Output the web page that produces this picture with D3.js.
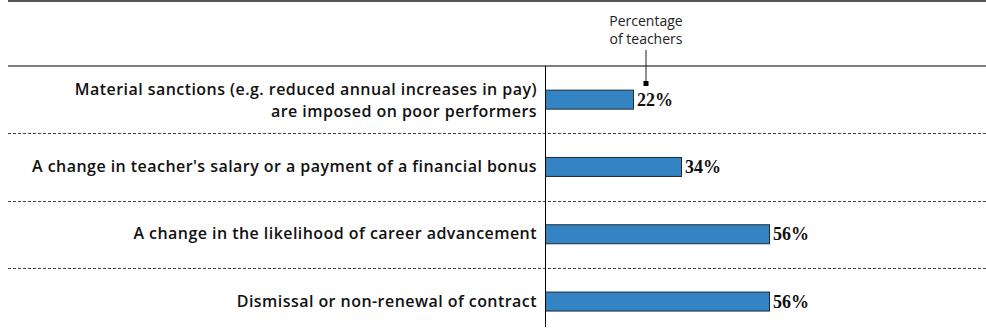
<!DOCTYPE html>
<html>
<head>
<meta charset="utf-8">
<script src="https://cdn.jsdelivr.net/npm/d3@7"></script>
<style>
  html, body { margin: 0; padding: 0; background: #fff; }
  svg { display: block; }
</style>
</head>
<body>
<svg id="chart" width="986" height="329"></svg>
<script>
// Incentives linked to teacher appraisal
const categories = [
  ["Material sanctions (e.g. reduced annual increases in pay)", "are imposed on poor performers"],
  ["A change in teacher's salary or a payment of a financial bonus"],
  ["A change in the likelihood of career advancement"],
  ["Dismissal or non-renewal of contract"]
];
const values = [22, 34, 56, 56];
const headerLines = ["Percentage", "of teachers"];

const svg = d3.select("#chart");
const W = 986;

const axisX = 545.5;
const plotTop = 66;
const x = d3.scaleLinear().domain([0, 100]).range([axisX, axisX + 400]);
const y = d3.scaleBand().domain(d3.range(categories.length)).range([plotTop, plotTop + 4 * 67.3]).paddingInner(0).paddingOuter(0);

// frame lines
svg.append("line").attr("x1", 8).attr("x2", W).attr("y1", 1).attr("y2", 1)
  .attr("stroke", "#555").attr("stroke-width", 2.2);
svg.append("line").attr("x1", 8).attr("x2", W).attr("y1", plotTop).attr("y2", plotTop)
  .attr("stroke", "#000").attr("stroke-width", 1.2);

// dotted row separators
svg.selectAll("line.sep").data(d3.range(1, categories.length)).join("line")
  .attr("class", "sep")
  .attr("x1", 8).attr("x2", W)
  .attr("y1", d => Math.round(y(d)) + 0.5).attr("y2", d => Math.round(y(d)) + 0.5)
  .attr("stroke", "#444").attr("stroke-width", 1).attr("stroke-dasharray", "3,2");

// bars
const barH = 19;
svg.selectAll("rect.bar").data(values).join("rect")
  .attr("class", "bar")
  .attr("x", x(0))
  .attr("y", (d, i) => y(i) + y.bandwidth() / 2 - barH / 2)
  .attr("width", d => x(d) - x(0))
  .attr("height", barH)
  .attr("fill", "#3484c4")
  .attr("stroke", "#1c2b38")
  .attr("stroke-width", 1);

// value labels
svg.selectAll("text.val").data(values).join("text")
  .attr("class", "val")
  .attr("x", d => x(d) + 3.5)
  .attr("y", (d, i) => y(i) + y.bandwidth() / 2 + 6)
  .attr("font-family", "'Liberation Serif', 'Times New Roman', serif")
  .attr("font-weight", "bold")
  .attr("font-size", 18)
  .attr("fill", "#111")
  .text(d => d + "%");

// category labels (two-line labels are stacked as separate text rows)
const catRows = [];
categories.forEach((lines, i) => {
  const cy = y(i) + y.bandwidth() / 2;
  const lh = 22;
  const y0 = lines.length > 1 ? cy - 5 : cy + 5;
  lines.forEach((t, k) => catRows.push({ t, y: y0 + k * lh }));
});
svg.selectAll("text.cat").data(catRows).join("text")
  .attr("class", "cat")
  .attr("x", 537)
  .attr("y", d => d.y)
  .attr("text-anchor", "end")
  .attr("font-family", "'Open Sans', sans-serif")
  .attr("font-weight", 600)
  .attr("font-size", 16)
  .attr("letter-spacing", 0.45)
  .attr("fill", "#111")
  .text(d => d.t);

// vertical axis
svg.append("line").attr("x1", axisX).attr("x2", axisX).attr("y1", plotTop).attr("y2", 327)
  .attr("stroke", "#000").attr("stroke-width", 1);

// column header with pointer
const hx = 646;
svg.selectAll("text.hdr").data(headerLines).join("text")
  .attr("class", "hdr")
  .attr("x", hx)
  .attr("y", (d, i) => 26 + i * 18)
  .attr("text-anchor", "middle")
  .attr("font-family", "'Open Sans', sans-serif")
  .attr("font-size", 14)
  .attr("fill", "#222")
  .text(d => d);
svg.append("line").attr("x1", hx).attr("x2", hx).attr("y1", 50).attr("y2", 83)
  .attr("stroke", "#222").attr("stroke-width", 1);
svg.append("rect").attr("x", hx - 2.5).attr("y", 81).attr("width", 5).attr("height", 5).attr("fill", "#000");
</script>
</body>
</html>
